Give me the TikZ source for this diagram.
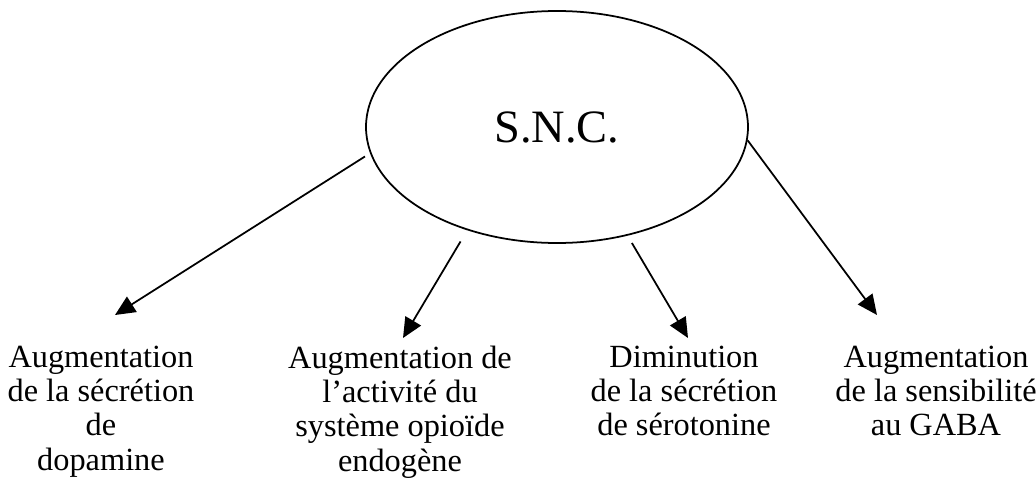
\documentclass[tikz,border=0pt]{standalone}
\usepackage{fontspec}
\setmainfont{Liberation Serif}
\usetikzlibrary{shapes.geometric,arrows.meta}

\begin{document}
\begin{tikzpicture}[>={Triangle[length=0.4cm,width=0.36cm]},line width=1pt]
\tikzstyle{centre}=[ellipse,draw,inner sep=0pt,minimum width=7.64cm,minimum height=4.64cm,font=\fontsize{26.4}{30}\selectfont]
\tikzstyle{effet}=[align=center,anchor=north,inner sep=0pt,font=\fontsize{18.4}{19.5}\selectfont]
\useasboundingbox (0,0) rectangle (20.72,9.66);
\node[centre](snc) at (11.14,7.12) {S.N.C.};
\node[effet](dopa) at (2.02,2.76) {Augmentation\\de la sécrétion\\de\\dopamine};
\node[effet](opio) at (8.00,2.76) {Augmentation de\\l’activité du\\système opioïde\\endogène};
\node[effet](sero) at (13.68,2.76) {Diminution\\de la sécrétion\\de sérotonine};
\node[effet](gaba) at (18.72,2.76) {Augmentation\\de la sensibilité\\au GABA};

% bouts des fleches
\coordinate (t1) at (2.30,3.36);
\coordinate (t2) at (8.06,2.90);
\coordinate (t3) at (13.76,2.90);
\coordinate (t4) at (17.54,3.36);

\path (snc.188.85) edge[->,shorten <=0.12cm] (t1)
      (snc.229.4) edge[->,shorten <=0.26cm] (t2)
      (snc.303.7) edge[->,shorten <=0.17cm] (t3)
      (snc.356.1) edge[->] (t4);
\end{tikzpicture}
\end{document}
